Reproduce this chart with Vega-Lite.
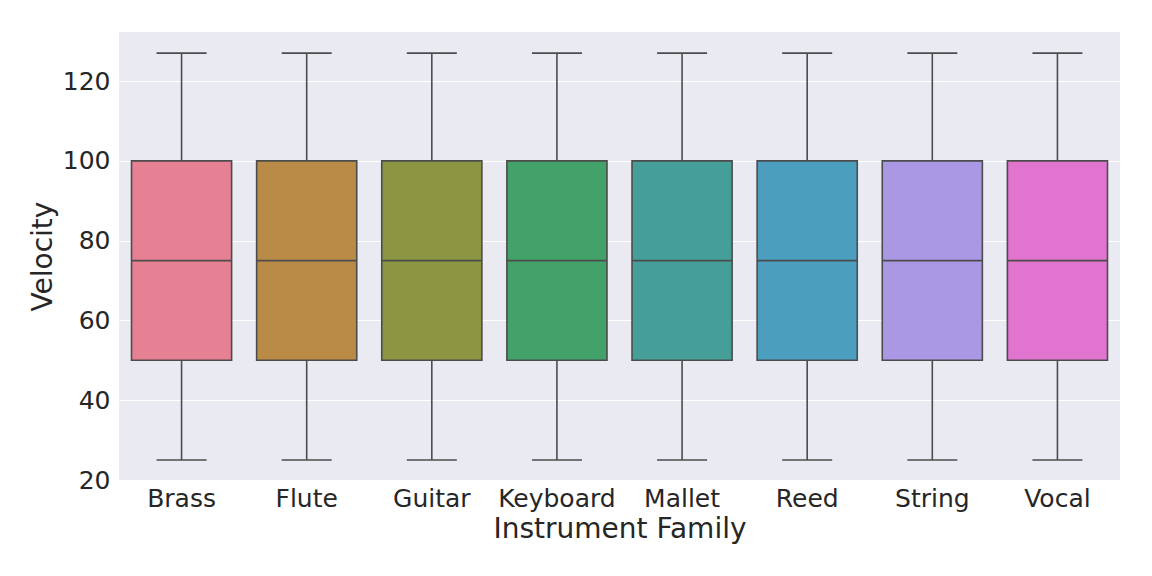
{
  "$schema": "https://vega.github.io/schema/vega-lite/v6.json",
  "width": 1001,
  "height": 448,
  "autosize": {"type": "none"},
  "padding": {"left": 119, "top": 32, "right": 32, "bottom": 96},
  "background": "white",
  "config": {
    "view": {"fill": "#eaeaf2", "stroke": null},
    "font": "DejaVu Sans",
    "axis": {
      "domain": false,
      "ticks": false,
      "labelFont": "DejaVu Sans",
      "titleFont": "DejaVu Sans",
      "labelFontSize": 25,
      "titleFontSize": 28,
      "labelColor": "#262626",
      "titleColor": "#262626",
      "titleFontWeight": "normal",
      "gridColor": "#ffffff",
      "gridWidth": 1.2
    }
  },
  "data": {
    "values": [
      {"family": "Brass", "min": 25, "q1": 50, "median": 75, "q3": 100, "max": 127},
      {"family": "Flute", "min": 25, "q1": 50, "median": 75, "q3": 100, "max": 127},
      {"family": "Guitar", "min": 25, "q1": 50, "median": 75, "q3": 100, "max": 127},
      {"family": "Keyboard", "min": 25, "q1": 50, "median": 75, "q3": 100, "max": 127},
      {"family": "Mallet", "min": 25, "q1": 50, "median": 75, "q3": 100, "max": 127},
      {"family": "Reed", "min": 25, "q1": 50, "median": 75, "q3": 100, "max": 127},
      {"family": "String", "min": 25, "q1": 50, "median": 75, "q3": 100, "max": 127},
      {"family": "Vocal", "min": 25, "q1": 50, "median": 75, "q3": 100, "max": 127}
    ]
  },
  "encoding": {
    "x": {
      "field": "family",
      "type": "nominal",
      "sort": null,
      "title": "Instrument Family",
      "scale": {"paddingInner": 0, "paddingOuter": 0},
      "axis": {"labelAngle": 0, "grid": false, "labelPadding": 6, "titlePadding": 4}
    }
  },
  "layer": [
    {
      "mark": {"type": "rule", "color": "#4c4c4c", "strokeWidth": 1.6},
      "encoding": {
        "y": {
          "field": "min",
          "type": "quantitative",
          "title": "Velocity",
          "scale": {"domain": [20, 132.3], "nice": false, "zero": false},
          "axis": {"values": [20, 40, 60, 80, 100, 120], "labelPadding": 9, "titlePadding": 5}
        },
        "y2": {"field": "max"}
      }
    },
    {
      "mark": {"type": "bar", "width": {"band": 0.8}, "stroke": "#4c4c4c", "strokeWidth": 1.6, "opacity": 1},
      "encoding": {
        "y": {"field": "q1", "type": "quantitative"},
        "y2": {"field": "q3"},
        "fill": {
          "field": "family",
          "type": "nominal",
          "legend": null,
          "scale": {
            "domain": ["Brass", "Flute", "Guitar", "Keyboard", "Mallet", "Reed", "String", "Vocal"],
            "range": ["#e58192", "#ba8b47", "#8b9542", "#43a269", "#469e98", "#4b9ebe", "#ab98e5", "#e074cf"]
          }
        }
      }
    },
    {
      "mark": {"type": "tick", "color": "#4c4c4c", "size": 100, "thickness": 1.6, "opacity": 1},
      "encoding": {"y": {"field": "median", "type": "quantitative"}}
    },
    {
      "mark": {"type": "tick", "color": "#4c4c4c", "size": 50, "thickness": 1.6, "opacity": 1},
      "encoding": {"y": {"field": "min", "type": "quantitative"}}
    },
    {
      "mark": {"type": "tick", "color": "#4c4c4c", "size": 50, "thickness": 1.6, "opacity": 1},
      "encoding": {"y": {"field": "max", "type": "quantitative"}}
    }
  ]
}
